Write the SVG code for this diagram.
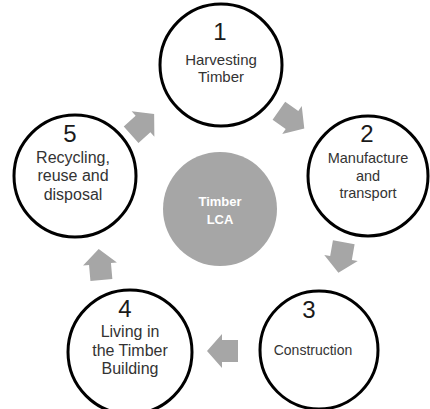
<svg xmlns="http://www.w3.org/2000/svg" width="430" height="409" viewBox="0 0 430 409">
<style>
.ring{fill:#ffffff;stroke:#000000;stroke-width:3}
.num{font-family:"Liberation Sans",Arial,sans-serif;font-size:24px;fill:#1a1a1a;text-anchor:middle}
.lbl{font-family:"Liberation Sans",Arial,sans-serif;font-size:15px;fill:#333333;text-anchor:middle}
.hub{fill:#a6a6a6}
.hubt{font-family:"Liberation Sans",Arial,sans-serif;font-size:13px;font-weight:bold;fill:#ffffff;text-anchor:middle}
.arr{fill:#a6a6a6}
</style>
<defs>
<path id="blk" d="M-16,-11 L0,-11 L0,-17 L15,0 L0,17 L0,11 L-16,11 Z"/>
</defs>
<rect width="430" height="409" fill="#ffffff"/>
<g id="connectors">
<use href="#blk" class="arr" transform="translate(143,124) rotate(-42)"/>
<use href="#blk" class="arr" transform="translate(292,120) rotate(35)"/>
<use href="#blk" class="arr" transform="translate(341,258) rotate(100)"/>
<use href="#blk" class="arr" transform="translate(222,351) rotate(180)"/>
<use href="#blk" class="arr" transform="translate(100,264) rotate(-95)"/>
</g>
<g id="hub">
<circle class="hub" cx="220" cy="209" r="57"/>
<text class="hubt" x="220" y="206">Timber</text>
<text class="hubt" x="220" y="224">LCA</text>
</g>
<g id="node1">
<circle class="ring" cx="221" cy="65" r="61"/>
<text class="num" x="220" y="40">1</text>
<text class="lbl" x="221" y="65">Harvesting</text>
<text class="lbl" x="221" y="82">Timber</text>
</g>
<g id="node2">
<circle class="ring" cx="368" cy="176" r="60"/>
<text class="num" x="367" y="142">2</text>
<text class="lbl" x="368" y="163" style="font-size:14.5px">Manufacture</text>
<text class="lbl" x="368" y="181" style="font-size:14.5px">and</text>
<text class="lbl" x="368" y="198" style="font-size:14.5px">transport</text>
</g>
<g id="node3">
<circle class="ring" cx="319" cy="350" r="59"/>
<text class="num" x="309" y="318">3</text>
<text class="lbl" x="313" y="355" style="font-size:14px">Construction</text>
</g>
<g id="node4">
<circle class="ring" cx="130" cy="352" r="62"/>
<text class="num" x="125" y="317">4</text>
<text class="lbl" x="130" y="337" style="font-size:16px">Living in</text>
<text class="lbl" x="130" y="356" style="font-size:16px">the Timber</text>
<text class="lbl" x="130" y="374" style="font-size:16px">Building</text>
</g>
<g id="node5">
<circle class="ring" cx="75" cy="176" r="61"/>
<text class="num" x="70" y="142">5</text>
<text class="lbl" x="73" y="163" style="font-size:16px">Recycling,</text>
<text class="lbl" x="73" y="181" style="font-size:16px">reuse and</text>
<text class="lbl" x="73" y="200" style="font-size:16px">disposal</text>
</g>
</svg>
